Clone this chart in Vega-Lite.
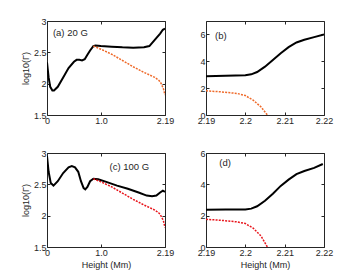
{
  "$schema": "https://vega.github.io/schema/vega-lite/v6.json",
  "padding": {"left": 20, "top": 16, "right": 5, "bottom": 5},
  "background": "white",
  "datasets": {
    "lines": [
      {"panel": "a", "series": "total", "x": 0, "y": 2.34},
      {"panel": "a", "series": "total", "x": 0.03, "y": 2.1},
      {"panel": "a", "series": "total", "x": 0.06, "y": 1.95},
      {"panel": "a", "series": "total", "x": 0.1, "y": 1.89},
      {"panel": "a", "series": "total", "x": 0.13, "y": 1.89},
      {"panel": "a", "series": "total", "x": 0.2, "y": 1.95},
      {"panel": "a", "series": "total", "x": 0.3, "y": 2.1},
      {"panel": "a", "series": "total", "x": 0.4, "y": 2.25},
      {"panel": "a", "series": "total", "x": 0.5, "y": 2.35},
      {"panel": "a", "series": "total", "x": 0.55, "y": 2.38},
      {"panel": "a", "series": "total", "x": 0.6, "y": 2.38},
      {"panel": "a", "series": "total", "x": 0.65, "y": 2.37},
      {"panel": "a", "series": "total", "x": 0.7, "y": 2.39},
      {"panel": "a", "series": "total", "x": 0.75, "y": 2.46},
      {"panel": "a", "series": "total", "x": 0.8, "y": 2.53},
      {"panel": "a", "series": "total", "x": 0.86, "y": 2.6},
      {"panel": "a", "series": "total", "x": 0.9, "y": 2.61},
      {"panel": "a", "series": "total", "x": 1.0, "y": 2.6},
      {"panel": "a", "series": "total", "x": 1.2, "y": 2.59},
      {"panel": "a", "series": "total", "x": 1.4, "y": 2.58},
      {"panel": "a", "series": "total", "x": 1.6, "y": 2.575},
      {"panel": "a", "series": "total", "x": 1.8, "y": 2.58},
      {"panel": "a", "series": "total", "x": 1.9, "y": 2.6},
      {"panel": "a", "series": "total", "x": 2.0, "y": 2.7},
      {"panel": "a", "series": "total", "x": 2.1, "y": 2.8},
      {"panel": "a", "series": "total", "x": 2.15, "y": 2.86},
      {"panel": "a", "series": "total", "x": 2.19, "y": 2.88},
      {"panel": "a", "series": "part", "x": 0.86, "y": 2.6},
      {"panel": "a", "series": "part", "x": 1.0, "y": 2.55},
      {"panel": "a", "series": "part", "x": 1.2, "y": 2.47},
      {"panel": "a", "series": "part", "x": 1.4, "y": 2.37},
      {"panel": "a", "series": "part", "x": 1.6, "y": 2.27},
      {"panel": "a", "series": "part", "x": 1.8, "y": 2.18},
      {"panel": "a", "series": "part", "x": 2.0, "y": 2.1},
      {"panel": "a", "series": "part", "x": 2.08, "y": 2.05},
      {"panel": "a", "series": "part", "x": 2.12, "y": 2.0},
      {"panel": "a", "series": "part", "x": 2.16, "y": 1.92},
      {"panel": "a", "series": "part", "x": 2.19, "y": 1.82},
      {"panel": "b", "series": "total", "x": 2.19, "y": 2.89},
      {"panel": "b", "series": "total", "x": 2.195, "y": 2.92},
      {"panel": "b", "series": "total", "x": 2.2, "y": 2.96},
      {"panel": "b", "series": "total", "x": 2.2015, "y": 3.03},
      {"panel": "b", "series": "total", "x": 2.203, "y": 3.2},
      {"panel": "b", "series": "total", "x": 2.205, "y": 3.6},
      {"panel": "b", "series": "total", "x": 2.207, "y": 4.1},
      {"panel": "b", "series": "total", "x": 2.209, "y": 4.6},
      {"panel": "b", "series": "total", "x": 2.211, "y": 5.05},
      {"panel": "b", "series": "total", "x": 2.213, "y": 5.4},
      {"panel": "b", "series": "total", "x": 2.215, "y": 5.6},
      {"panel": "b", "series": "total", "x": 2.2175, "y": 5.8},
      {"panel": "b", "series": "total", "x": 2.22, "y": 6.0},
      {"panel": "b", "series": "part", "x": 2.19, "y": 1.8},
      {"panel": "b", "series": "part", "x": 2.194, "y": 1.72},
      {"panel": "b", "series": "part", "x": 2.198, "y": 1.6},
      {"panel": "b", "series": "part", "x": 2.2, "y": 1.45},
      {"panel": "b", "series": "part", "x": 2.202, "y": 1.1},
      {"panel": "b", "series": "part", "x": 2.204, "y": 0.6},
      {"panel": "b", "series": "part", "x": 2.2056, "y": 0},
      {"panel": "c", "series": "total", "x": 0, "y": 2.95},
      {"panel": "c", "series": "total", "x": 0.03, "y": 2.7},
      {"panel": "c", "series": "total", "x": 0.07, "y": 2.52},
      {"panel": "c", "series": "total", "x": 0.12, "y": 2.48},
      {"panel": "c", "series": "total", "x": 0.2, "y": 2.55},
      {"panel": "c", "series": "total", "x": 0.3, "y": 2.68},
      {"panel": "c", "series": "total", "x": 0.4, "y": 2.77},
      {"panel": "c", "series": "total", "x": 0.46, "y": 2.79},
      {"panel": "c", "series": "total", "x": 0.52, "y": 2.77},
      {"panel": "c", "series": "total", "x": 0.58, "y": 2.7},
      {"panel": "c", "series": "total", "x": 0.63, "y": 2.55},
      {"panel": "c", "series": "total", "x": 0.68, "y": 2.44},
      {"panel": "c", "series": "total", "x": 0.71, "y": 2.42},
      {"panel": "c", "series": "total", "x": 0.75, "y": 2.46},
      {"panel": "c", "series": "total", "x": 0.8, "y": 2.55},
      {"panel": "c", "series": "total", "x": 0.86, "y": 2.59},
      {"panel": "c", "series": "total", "x": 0.95, "y": 2.58},
      {"panel": "c", "series": "total", "x": 1.1, "y": 2.54},
      {"panel": "c", "series": "total", "x": 1.3, "y": 2.48},
      {"panel": "c", "series": "total", "x": 1.5, "y": 2.43},
      {"panel": "c", "series": "total", "x": 1.7, "y": 2.37},
      {"panel": "c", "series": "total", "x": 1.85, "y": 2.32},
      {"panel": "c", "series": "total", "x": 1.95, "y": 2.31},
      {"panel": "c", "series": "total", "x": 2.03, "y": 2.32},
      {"panel": "c", "series": "total", "x": 2.1, "y": 2.37},
      {"panel": "c", "series": "total", "x": 2.15, "y": 2.4},
      {"panel": "c", "series": "total", "x": 2.19, "y": 2.38},
      {"panel": "c", "series": "part", "x": 0.86, "y": 2.59},
      {"panel": "c", "series": "part", "x": 1.0, "y": 2.54},
      {"panel": "c", "series": "part", "x": 1.2, "y": 2.46},
      {"panel": "c", "series": "part", "x": 1.4, "y": 2.36},
      {"panel": "c", "series": "part", "x": 1.6, "y": 2.26},
      {"panel": "c", "series": "part", "x": 1.8, "y": 2.17},
      {"panel": "c", "series": "part", "x": 2.0, "y": 2.09},
      {"panel": "c", "series": "part", "x": 2.08, "y": 2.04},
      {"panel": "c", "series": "part", "x": 2.12, "y": 1.99},
      {"panel": "c", "series": "part", "x": 2.16, "y": 1.92},
      {"panel": "c", "series": "part", "x": 2.19, "y": 1.81},
      {"panel": "d", "series": "total", "x": 2.19, "y": 2.38},
      {"panel": "d", "series": "total", "x": 2.195, "y": 2.39},
      {"panel": "d", "series": "total", "x": 2.2, "y": 2.4},
      {"panel": "d", "series": "total", "x": 2.2015, "y": 2.45},
      {"panel": "d", "series": "total", "x": 2.203, "y": 2.6},
      {"panel": "d", "series": "total", "x": 2.205, "y": 2.95},
      {"panel": "d", "series": "total", "x": 2.207, "y": 3.4},
      {"panel": "d", "series": "total", "x": 2.209, "y": 3.9},
      {"panel": "d", "series": "total", "x": 2.211, "y": 4.3},
      {"panel": "d", "series": "total", "x": 2.213, "y": 4.65},
      {"panel": "d", "series": "total", "x": 2.215, "y": 4.85},
      {"panel": "d", "series": "total", "x": 2.2175, "y": 5.05},
      {"panel": "d", "series": "total", "x": 2.2197, "y": 5.3},
      {"panel": "d", "series": "part", "x": 2.19, "y": 1.77},
      {"panel": "d", "series": "part", "x": 2.194, "y": 1.7},
      {"panel": "d", "series": "part", "x": 2.198, "y": 1.6},
      {"panel": "d", "series": "part", "x": 2.2, "y": 1.5},
      {"panel": "d", "series": "part", "x": 2.202, "y": 1.2},
      {"panel": "d", "series": "part", "x": 2.204, "y": 0.7},
      {"panel": "d", "series": "part", "x": 2.2056, "y": 0}
    ],
    "labels": [
      {"panel": "a", "label": "(a) 20 G", "x": 0.11, "y": 2.81},
      {"panel": "b", "label": "(b)", "x": 2.1923, "y": 5.9},
      {"panel": "c", "label": "(c) 100 G", "x": 1.16, "y": 2.77},
      {"panel": "d", "label": "(d)", "x": 2.1934, "y": 5.35}
    ]
  },
  "concat": [
    {
      "width": 118, "height": 94,
      "layer": [
        {
          "data": {"name": "lines"},
          "transform": [{"filter": "datum.panel == 'a' && datum.series == 'total'"}],
          "mark": {"type": "line", "color": "black", "strokeWidth": 2, "clip": true},
          "encoding": {
            "x": {"field": "x", "type": "quantitative", "scale": {"domain": [0, 2.19], "nice": false, "zero": false},
                  "axis": {"values": [0, 1, 2.19], "labelExpr": "datum.value == 1 ? '1.0' : datum.value == 0 ? '0' : '2.19'", "title": null}},
            "y": {"field": "y", "type": "quantitative", "scale": {"domain": [1.5, 3], "nice": false, "zero": false},
                  "axis": {"values": [1.5, 2, 2.5, 3], "format": "~g", "title": "log10(Γ)"}}
          }
        },
        {
          "data": {"name": "lines"},
          "transform": [{"filter": "datum.panel == 'a' && datum.series == 'part'"}],
          "mark": {"type": "line", "color": "#ef6a2a", "strokeWidth": 1.5, "strokeDash": [2, 1.2], "clip": true},
          "encoding": {
            "x": {"field": "x", "type": "quantitative", "scale": {"domain": [0, 2.19], "nice": false, "zero": false},
                  "axis": {"orient": "top", "values": [0, 1, 2.19], "labels": false, "title": null}},
            "y": {"field": "y", "type": "quantitative", "scale": {"domain": [1.5, 3], "nice": false, "zero": false},
                  "axis": {"orient": "right", "values": [1.5, 2, 2.5, 3], "labels": false, "title": null}}
          }
        },
        {
          "data": {"name": "labels"},
          "transform": [{"filter": "datum.panel == 'a'"}],
          "mark": {"type": "text", "align": "left", "baseline": "middle", "font": "Liberation Sans", "fontSize": 9.5, "color": "#262626"},
          "encoding": {
            "x": {"field": "x", "type": "quantitative", "scale": {"domain": [0, 2.19], "nice": false, "zero": false}, "axis": null},
            "y": {"field": "y", "type": "quantitative", "scale": {"domain": [1.5, 3], "nice": false, "zero": false}, "axis": null},
            "text": {"field": "label"}
          }
        }
      ],
      "resolve": {"scale": {"x": "independent", "y": "independent"}}
    },
    {
      "width": 118, "height": 94,
      "layer": [
        {
          "data": {"name": "lines"},
          "transform": [{"filter": "datum.panel == 'b' && datum.series == 'total'"}],
          "mark": {"type": "line", "color": "black", "strokeWidth": 2, "clip": true},
          "encoding": {
            "x": {"field": "x", "type": "quantitative", "scale": {"domain": [2.19, 2.22], "nice": false, "zero": false},
                  "axis": {"values": [2.19, 2.2, 2.21, 2.22], "labelExpr": "datum.value < 2.195 ? '2.19' : datum.value < 2.205 ? '2.2' : datum.value < 2.215 ? '2.21' : '2.22'", "title": null}},
            "y": {"field": "y", "type": "quantitative", "scale": {"domain": [0, 7], "nice": false, "zero": false},
                  "axis": {"values": [0, 2, 4, 6], "title": null}}
          }
        },
        {
          "data": {"name": "lines"},
          "transform": [{"filter": "datum.panel == 'b' && datum.series == 'part'"}],
          "mark": {"type": "line", "color": "#ef6a2a", "strokeWidth": 1.5, "strokeDash": [2, 1.2], "clip": true},
          "encoding": {
            "x": {"field": "x", "type": "quantitative", "scale": {"domain": [2.19, 2.22], "nice": false, "zero": false},
                  "axis": {"orient": "top", "values": [2.19, 2.2, 2.21, 2.22], "labels": false, "title": null}},
            "y": {"field": "y", "type": "quantitative", "scale": {"domain": [0, 7], "nice": false, "zero": false},
                  "axis": {"orient": "right", "values": [0, 2, 4, 6], "labels": false, "title": null}}
          }
        },
        {
          "data": {"name": "labels"},
          "transform": [{"filter": "datum.panel == 'b'"}],
          "mark": {"type": "text", "align": "left", "baseline": "middle", "font": "Liberation Sans", "fontSize": 9.5, "color": "#262626"},
          "encoding": {
            "x": {"field": "x", "type": "quantitative", "scale": {"domain": [2.19, 2.22], "nice": false, "zero": false}, "axis": null},
            "y": {"field": "y", "type": "quantitative", "scale": {"domain": [0, 7], "nice": false, "zero": false}, "axis": null},
            "text": {"field": "label"}
          }
        }
      ],
      "resolve": {"scale": {"x": "independent", "y": "independent"}}
    },
    {
      "width": 118, "height": 94,
      "layer": [
        {
          "data": {"name": "lines"},
          "transform": [{"filter": "datum.panel == 'c' && datum.series == 'total'"}],
          "mark": {"type": "line", "color": "black", "strokeWidth": 2, "clip": true},
          "encoding": {
            "x": {"field": "x", "type": "quantitative", "scale": {"domain": [0, 2.19], "nice": false, "zero": false},
                  "axis": {"values": [0, 1, 2.19], "labelExpr": "datum.value == 1 ? '1.0' : datum.value == 0 ? '0' : '2.19'", "title": "Height (Mm)"}},
            "y": {"field": "y", "type": "quantitative", "scale": {"domain": [1.5, 3], "nice": false, "zero": false},
                  "axis": {"values": [1.5, 2, 2.5, 3], "format": "~g", "title": "log10(Γ)"}}
          }
        },
        {
          "data": {"name": "lines"},
          "transform": [{"filter": "datum.panel == 'c' && datum.series == 'part'"}],
          "mark": {"type": "line", "color": "#e8141b", "strokeWidth": 1.5, "strokeDash": [2, 1.2], "clip": true},
          "encoding": {
            "x": {"field": "x", "type": "quantitative", "scale": {"domain": [0, 2.19], "nice": false, "zero": false},
                  "axis": {"orient": "top", "values": [0, 1, 2.19], "labels": false, "title": null}},
            "y": {"field": "y", "type": "quantitative", "scale": {"domain": [1.5, 3], "nice": false, "zero": false},
                  "axis": {"orient": "right", "values": [1.5, 2, 2.5, 3], "labels": false, "title": null}}
          }
        },
        {
          "data": {"name": "labels"},
          "transform": [{"filter": "datum.panel == 'c'"}],
          "mark": {"type": "text", "align": "left", "baseline": "middle", "font": "Liberation Sans", "fontSize": 9.5, "color": "#262626"},
          "encoding": {
            "x": {"field": "x", "type": "quantitative", "scale": {"domain": [0, 2.19], "nice": false, "zero": false}, "axis": null},
            "y": {"field": "y", "type": "quantitative", "scale": {"domain": [1.5, 3], "nice": false, "zero": false}, "axis": null},
            "text": {"field": "label"}
          }
        }
      ],
      "resolve": {"scale": {"x": "independent", "y": "independent"}}
    },
    {
      "width": 118, "height": 94,
      "layer": [
        {
          "data": {"name": "lines"},
          "transform": [{"filter": "datum.panel == 'd' && datum.series == 'total'"}],
          "mark": {"type": "line", "color": "black", "strokeWidth": 2, "clip": true},
          "encoding": {
            "x": {"field": "x", "type": "quantitative", "scale": {"domain": [2.19, 2.22], "nice": false, "zero": false},
                  "axis": {"values": [2.19, 2.2, 2.21, 2.22], "labelExpr": "datum.value < 2.195 ? '2.19' : datum.value < 2.205 ? '2.2' : datum.value < 2.215 ? '2.21' : '2.22'", "title": "Height (Mm)"}},
            "y": {"field": "y", "type": "quantitative", "scale": {"domain": [0, 6], "nice": false, "zero": false},
                  "axis": {"values": [0, 2, 4, 6], "title": null}}
          }
        },
        {
          "data": {"name": "lines"},
          "transform": [{"filter": "datum.panel == 'd' && datum.series == 'part'"}],
          "mark": {"type": "line", "color": "#e8141b", "strokeWidth": 1.5, "strokeDash": [2, 1.2], "clip": true},
          "encoding": {
            "x": {"field": "x", "type": "quantitative", "scale": {"domain": [2.19, 2.22], "nice": false, "zero": false},
                  "axis": {"orient": "top", "values": [2.19, 2.2, 2.21, 2.22], "labels": false, "title": null}},
            "y": {"field": "y", "type": "quantitative", "scale": {"domain": [0, 6], "nice": false, "zero": false},
                  "axis": {"orient": "right", "values": [0, 2, 4, 6], "labels": false, "title": null}}
          }
        },
        {
          "data": {"name": "labels"},
          "transform": [{"filter": "datum.panel == 'd'"}],
          "mark": {"type": "text", "align": "left", "baseline": "middle", "font": "Liberation Sans", "fontSize": 9.5, "color": "#262626"},
          "encoding": {
            "x": {"field": "x", "type": "quantitative", "scale": {"domain": [2.19, 2.22], "nice": false, "zero": false}, "axis": null},
            "y": {"field": "y", "type": "quantitative", "scale": {"domain": [0, 6], "nice": false, "zero": false}, "axis": null},
            "text": {"field": "label"}
          }
        }
      ],
      "resolve": {"scale": {"x": "independent", "y": "independent"}}
    }
  ],
  "columns": 2,
  "spacing": {"row": 38, "column": 41},
  "bounds": "flush",
  "config": {
    "view": {"stroke": "#262626", "strokeWidth": 1},
    "axis": {
      "grid": false,
      "domain": false,
      "tickSize": -3,
      "tickColor": "#262626",
      "labelFont": "Liberation Sans",
      "labelFontSize": 9,
      "labelColor": "#262626",
      "labelPadding": 4,
      "titleFont": "Liberation Sans",
      "titleFontSize": 9,
      "titleFontWeight": "normal",
      "titleColor": "#262626",
      "titlePadding": 3
    },
    "axisX": {"labelFlush": false}
  }
}
